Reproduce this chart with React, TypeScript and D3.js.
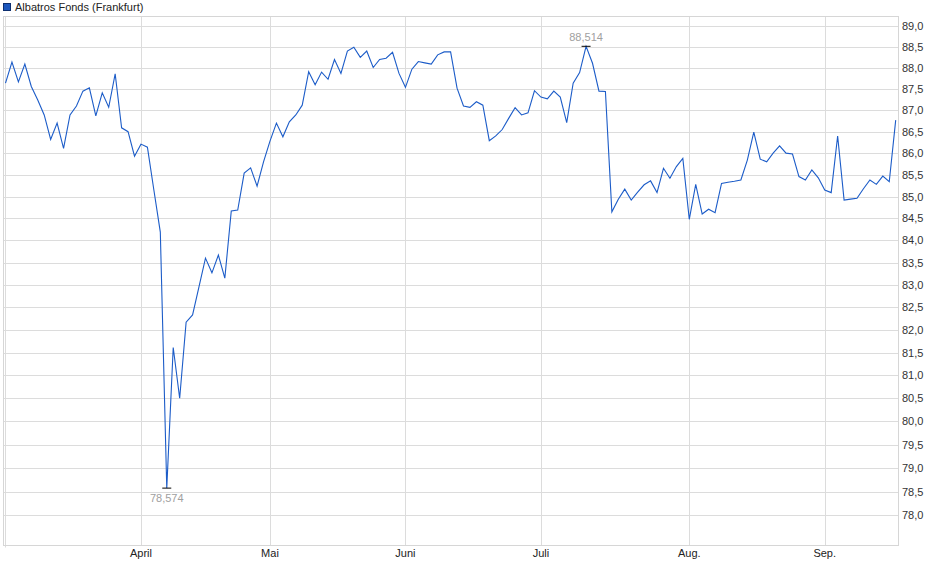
import React from "react"
import * as d3 from "d3"

// daily prices (trading days, Mar 3 – Sep 16)
const prices: number[] = [
  87.64, 88.14, 87.67, 88.09, 87.56, 87.24, 86.89, 86.32, 86.70, 86.11,
  86.89, 87.10, 87.45, 87.53, 86.87, 87.41, 87.07, 87.86, 86.59, 86.50,
  85.93, 86.21, 86.14, 85.15, 84.19, 78.574, 81.61, 80.50, 82.17, 82.33,
  82.96, 83.60, 83.27, 83.67, 83.15, 84.67, 84.69, 85.54, 85.66, 85.24,
  85.80, 86.28, 86.70, 86.38, 86.73, 86.89, 87.12, 87.91, 87.60, 87.90,
  87.73, 88.20, 87.87, 88.40, 88.49, 88.25, 88.40, 88.01, 88.20, 88.23,
  88.37, 87.87, 87.54, 87.97, 88.15, 88.12, 88.09, 88.31, 88.38, 88.38,
  87.52, 87.10, 87.07, 87.20, 87.12, 86.29, 86.40, 86.55, 86.81, 87.06,
  86.89, 86.94, 87.46, 87.31, 87.27, 87.45, 87.31, 86.71, 87.64, 87.89,
  88.514, 88.11, 87.45, 87.44, 84.65, 84.94, 85.17, 84.92, 85.10, 85.27,
  85.36, 85.09, 85.65, 85.42, 85.69, 85.88, 84.48, 85.28, 84.60, 84.71,
  84.63, 85.30, 85.33, 85.35, 85.38, 85.84, 86.49, 85.86, 85.80, 86.00,
  86.17, 86.00, 85.98, 85.46, 85.38, 85.61, 85.43, 85.15, 85.09, 86.40,
  84.92, 84.94, 84.96, 85.18, 85.38, 85.28, 85.47, 85.34, 86.77,
]

const monthLabels = ["April", "Mai", "Juni", "Juli", "Aug.", "Sep."]
const monthStarts = [21, 41, 62, 83, 106, 127]

const yTicks = d3.range(78, 89.01, 0.5)

const seriesName = "Albatros Fonds (Frankfurt)"

const W = 940
const H = 579
const left = 3.5
const right = 898.5
const top = 16.5
const bottom = 545.5
const font = "'Liberation Sans', Arial, sans-serif"

export default function App() {
  const x = d3.scaleLinear().domain([0, prices.length - 1]).range([5.5, 895.7])
  const y = d3.scaleLog().domain([77.378, 89.24]).range([545, 16])

  const line = d3
    .line<number>()
    .x((_, i) => x(i))
    .y((d) => y(d))

  const fmt = (v: number, digits: number) => v.toFixed(digits).replace(".", ",")

  const iMax = d3.maxIndex(prices)
  const iMin = d3.minIndex(prices)

  return (
    <div style={{ position: "absolute", left: 0, top: 0 }}>
      <svg width={W} height={H} style={{ display: "block", background: "#fff" }}>
        {/* legend */}
        <rect x={3.5} y={3.5} width={7} height={7} fill="#1c57bd" stroke="#0d2f70" />
        <text x={15} y={11} fontFamily={font} fontSize={11} fill="#222">
          {seriesName}
        </text>

        {/* horizontal grid */}
        {yTicks.map((t) => (
          <g key={t}>
            <line
              x1={left}
              x2={right}
              y1={Math.round(y(t)) + 0.5}
              y2={Math.round(y(t)) + 0.5}
              stroke="#dcdcdc"
            />
            <text
              x={902}
              y={Math.round(y(t)) + 0.5}
              dy="0.35em"
              fontFamily={font}
              fontSize={11}
              fill="#333"
            >
              {fmt(t, 1)}
            </text>
          </g>
        ))}

        {/* vertical grid at month starts */}
        {monthStarts.map((m, i) => (
          <g key={m}>
            <line
              x1={Math.round(x(m)) + 0.5}
              x2={Math.round(x(m)) + 0.5}
              y1={top}
              y2={bottom}
              stroke="#dcdcdc"
            />
            <text
              x={x(m)}
              y={557}
              textAnchor="middle"
              fontFamily={font}
              fontSize={11}
              fill="#222"
            >
              {monthLabels[i]}
            </text>
          </g>
        ))}
        <line x1={5.5} x2={5.5} y1={top} y2={bottom + 2} stroke="#dcdcdc" />

        {/* frame */}
        <rect
          x={left}
          y={top}
          width={right - left}
          height={bottom - top}
          fill="none"
          stroke="#d6d6d6"
        />

        {/* series */}
        <path d={line(prices) ?? ""} fill="none" stroke="#1c5cc8" strokeWidth={1.1} />

        {/* high / low markers */}
        <line
          x1={x(iMax) - 4.5}
          x2={x(iMax) + 4.5}
          y1={y(prices[iMax])}
          y2={y(prices[iMax])}
          stroke="#000"
        />
        <text
          x={x(iMax)}
          y={y(prices[iMax]) - 5}
          textAnchor="middle"
          fontFamily={font}
          fontSize={11}
          fill="#a0a0a0"
        >
          {fmt(prices[iMax], 3)}
        </text>
        <line
          x1={x(iMin) - 4.5}
          x2={x(iMin) + 4.5}
          y1={y(prices[iMin])}
          y2={y(prices[iMin])}
          stroke="#000"
        />
        <text
          x={x(iMin)}
          y={y(prices[iMin]) + 14}
          textAnchor="middle"
          fontFamily={font}
          fontSize={11}
          fill="#a0a0a0"
        >
          {fmt(prices[iMin], 3)}
        </text>
      </svg>
    </div>
  )
}
